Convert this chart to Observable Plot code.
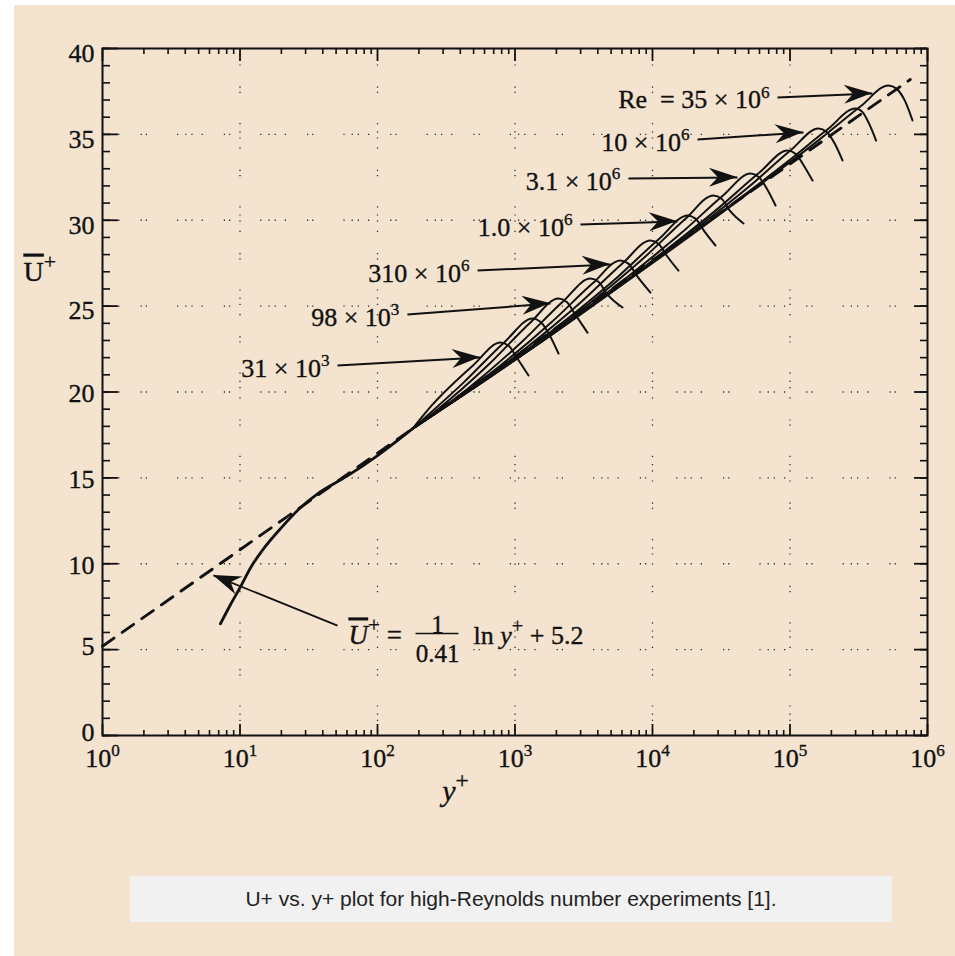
<!DOCTYPE html>
<html>
<head>
<meta charset="utf-8">
<script src="https://cdn.jsdelivr.net/npm/d3@7"></script>
<script src="https://cdn.jsdelivr.net/npm/@observablehq/plot@0.6"></script>
<style>
  html, body { margin: 0; padding: 0; background: #ffffff; }
  body { width: 955px; height: 956px; position: relative; overflow: hidden; }
  #panel { position: absolute; left: 14px; top: 5px; right: 0; bottom: 0; background: #F3E3CF; }
  #chart { position: absolute; left: 0; top: 0; }
  #caption {
    position: absolute; left: 130px; top: 876px; width: 762px; height: 46px;
    background: #F1F1F1; display: flex; align-items: center; justify-content: center;
    font: 21px "Liberation Sans", Arial, sans-serif; color: #222;
  }
</style>
</head>
<body>
<div id="panel"></div>
<div id="chart"></div>
<div id="caption">U+ vs. y+ plot for high-Reynolds number experiments [1].</div>
<script>
// Log law of the wall: U+ = (1/kappa) ln y+ + B
const kappa = 0.41;
const intercept = 5.2;
const lawSpan = [1, 750000];

// Common near-wall part of the measured profiles [y+, U+]
const innerProfile = [
  [7.2, 6.5], [8.5, 7.6], [10, 8.6], [12, 9.8], [14.6, 10.8], [20, 12.1],
  [27, 13.2], [37, 14.1], [60, 15.1], [100, 16.3], [180, 17.87]
];

// Outer parts of the profiles, one per Reynolds number, lowest first [y+, U+]
const profile1 = [[180, 17.87], [248, 19.22], [495, 21.55], [785, 22.88], [902, 22.68], [1035, 21.98], [1254, 20.96]];
const profile2 = [[180, 17.87], [424, 20.56], [845, 22.93], [1340, 24.28], [1538, 24.08], [1766, 23.38], [2072, 22.24]];
const profile3 = [[180, 17.87], [261, 18.85], [655, 21.66], [1306, 24.08], [2070, 25.44], [2377, 25.24], [2729, 24.54], [3365, 23.46]];
const profile4 = [[180, 17.87], [446, 20.15], [1119, 22.91], [2234, 25.27], [3540, 26.61], [4064, 26.41], [4667, 25.71], [6050, 24.92]];
const profile5 = [[180, 17.87], [736, 21.37], [1849, 24.07], [3690, 26.34], [5850, 27.66], [6714, 27.46], [7709, 26.76], [9670, 25.79]];
const profile6 = [[180, 17.87], [1216, 22.59], [3055, 25.27], [6095, 27.51], [9660, 28.82], [11090, 28.62], [12740, 27.92], [15450, 27.07]];
const profile7 = [[180, 17.87], [2265, 24.10], [5689, 26.76], [11350, 28.97], [17990, 30.28], [20650, 30.08], [23710, 29.38], [28710, 28.53]];
const profile8 = [[180, 17.87], [3499, 25.16], [8790, 27.86], [17540, 30.12], [27800, 31.44], [31920, 31.24], [36640, 30.54], [45920, 29.81]];
const profile9 = [[180, 17.87], [6501, 26.66], [16330, 29.28], [32590, 31.44], [51640, 32.72], [59290, 32.52], [68080, 31.82], [78520, 30.86]];
const profile10 = [[180, 17.87], [12080, 28.16], [30340, 30.72], [60530, 32.81], [95940, 34.06], [110200, 33.86], [126500, 33.16], [145900, 32.31]];
const profile11 = [[180, 17.87], [20280, 29.44], [50930, 31.99], [101600, 34.09], [161100, 35.34], [184900, 35.14], [212300, 34.44], [241000, 33.48]];
const profile12 = [[180, 17.87], [37670, 30.93], [94620, 33.37], [188800, 35.31], [299200, 36.51], [335700, 36.31], [376700, 35.61], [422700, 34.64]];
const profile13 = [[180, 17.87], [65460, 32.28], [164400, 34.71], [328100, 36.65], [520000, 37.85], [597000, 37.65], [685500, 36.95], [778000, 35.81]];
const profiles = [profile1, profile2, profile3, profile4, profile5, profile6, profile7,
                  profile8, profile9, profile10, profile11, profile12, profile13];

// Reynolds-number annotations: label, arrow tail and arrow tip [y+, U+]
const reLabels = ["31 × 10^3", "98 × 10^3", "310 × 10^6", "1.0 × 10^6", "3.1 × 10^6", "10 × 10^6", "Re\u00a0 = 35 × 10^6"];
const arrowTail = [[51.2, 21.54], [165, 24.51], [534, 27.07], [2995, 29.75], [6685, 32.43], [21250, 34.70], [81100, 37.15]];
const arrowTip = [[561, 22.01], [1811, 25.15], [4950, 27.42], [15200, 29.93], [41500, 32.49], [125400, 35.11], [398000, 37.38]];

// Law-of-the-wall annotation arrow
const formulaTail = [51.2, 6.40];
const formulaTip = [6.41, 9.32];
const fractionBar = [[189, 5.94], [388, 5.94]];

// Axes
const decades = [1, 10, 100, 1e3, 1e4, 1e5, 1e6];
const uTicksLow = [0, 5];
const uTicksMid = [10, 15, 20];
const uTicksHigh = [25, 30, 35, 40];
const uTicks = [...uTicksLow, ...uTicksMid, ...uTicksHigh];
const uMinor = d3.range(0, 41);
const xMinor = decades.slice(0, -1).flatMap(d => d3.range(2, 10).map(k => k * d));
const gridU = [5, 10, 15, 20, 25, 30, 35];
const gridX = [10, 100, 1e3, 1e4, 1e5];

const W = 955, H = 800, mL = 102, mR = 28, mT = 48, mB = 65;
const innerW = W - mL - mR, innerH = H - mT - mB;
const ink = "#111";
const serif = "'Liberation Serif', 'Times New Roman', serif";
const gridDash = "1.2 5 1.2 9 1.2 21 1.2 4 1.2 30 1.2 7";
const textInk = {fill: ink, stroke: ink, strokeWidth: 0.35, fontFamily: serif};

const lawLine = lawSpan.map(v => [v, Math.log(v) / kappa + intercept]);
const outerPoints = profiles.flatMap((p, i) => p.map(([x, y]) => ({id: i, x, y})));
const arrows = reLabels.map((label, i) => ({label, tail: arrowTail[i], tip: arrowTip[i]}));

const note = (text, dx, dy, textAnchor, fontSize = 27) =>
  Plot.text([formulaTail], {x: d => d[0], y: d => d[1], text: () => text, dx, dy,
    textAnchor, lineAnchor: "bottom", fontSize, ...textInk});

const uLabels = (ticks, dy) =>
  Plot.text(ticks, {y: d => d, text: d => String(d), frameAnchor: "left", textAnchor: "end",
    dx: -8, dy, fontSize: 26, ...textInk});

const chart = Plot.plot({
  width: W, height: H,
  marginLeft: mL, marginRight: mR, marginTop: mT, marginBottom: mB,
  x: {type: "log", domain: [1, 1e6], axis: null},
  y: {domain: [0, 40], axis: null},
  style: {background: "transparent", overflow: "visible", fontFamily: serif, color: ink},
  marks: [
    // dotted grid
    Plot.ruleY(gridU, {y: d => d, stroke: "#2a2a2a", strokeWidth: 1.3, strokeDasharray: gridDash}),
    Plot.ruleX(gridX, {x: d => d, stroke: "#2a2a2a", strokeWidth: 1.3, strokeDasharray: gridDash}),
    // law of the wall
    Plot.line(lawLine, {x: d => d[0], y: d => d[1], stroke: ink, strokeWidth: 2.9, strokeDasharray: "14 10"}),
    // measured profiles
    Plot.line(innerProfile, {x: d => d[0], y: d => d[1], curve: "monotone-x", stroke: ink, strokeWidth: 2.8}),
    Plot.line(outerPoints, {x: "x", y: "y", z: "id", curve: "monotone-x", stroke: ink, strokeWidth: 2}),
    // annotation arrows and labels
    Plot.link(arrows, {x1: d => d.tail[0], y1: d => d.tail[1], x2: d => d.tip[0], y2: d => d.tip[1], stroke: ink, strokeWidth: 2}),
    Plot.text(arrows, {x: d => d.tail[0], y: d => d.tail[1], text: "label", textAnchor: "end", lineAnchor: "bottom",
      dx: -8, dy: 11, fontSize: 26, ...textInk}),
    Plot.link([formulaTail], {x1: d => d[0], y1: d => d[1], x2: () => formulaTip[0], y2: () => formulaTip[1], stroke: ink, strokeWidth: 1.8}),
    note("~¯U^+ =", 11, 18, "start"),
    note("1", 100, 7, "middle", 25),
    note("0.41", 100, 36, "middle", 25),
    note("ln ~y^+ + 5.2", 136, 18, "start", 26),
    Plot.link([fractionBar], {x1: d => d[0][0], y1: d => d[0][1], x2: d => d[1][0], y2: d => d[1][1], stroke: ink, strokeWidth: 1.5}),
    // inward ticks on all four sides
    Plot.ruleX(xMinor, {x: d => d, insetTop: innerH - 5, stroke: ink, strokeWidth: 1.6}),
    Plot.ruleX(decades, {x: d => d, insetTop: innerH - 11, stroke: ink, strokeWidth: 1.8}),
    Plot.ruleX(xMinor, {x: d => d, insetBottom: innerH - 6, stroke: ink, strokeWidth: 1.6}),
    Plot.ruleX(decades, {x: d => d, insetBottom: innerH - 13, stroke: ink, strokeWidth: 1.8}),
    Plot.ruleY(uMinor, {y: d => d, insetRight: innerW - 8, stroke: ink, strokeWidth: 1.6}),
    Plot.ruleY(uTicks, {y: d => d, insetRight: innerW - 16, stroke: ink, strokeWidth: 1.8}),
    Plot.ruleY(uMinor, {y: d => d, insetLeft: innerW - 7, stroke: ink, strokeWidth: 1.6}),
    Plot.ruleY(uTicks, {y: d => d, insetLeft: innerW - 13, stroke: ink, strokeWidth: 1.8}),
    // tick labels
    Plot.text(decades, {x: d => d, text: d => "10^" + Math.round(Math.log10(d)), frameAnchor: "bottom",
      lineAnchor: "bottom", dy: 31, fontSize: 26, ...textInk}),
    uLabels(uTicksLow, -3),
    uLabels(uTicksMid, 2),
    uLabels(uTicksHigh, 5),
    // axis titles
    Plot.text([369], {x: d => d, text: () => "~y^+", frameAnchor: "bottom", lineAnchor: "bottom",
      dy: 65, fontSize: 30, ...textInk}),
    Plot.text([27], {y: d => d, text: () => "¯U^+", frameAnchor: "left", textAnchor: "start",
      dx: -79, fontSize: 28, ...textInk}),
    Plot.frame({stroke: ink, strokeWidth: 2})
  ]
});

document.getElementById("chart").appendChild(chart);

// Filled arrowheads placed with the chart's own scales
const ns = "http://www.w3.org/2000/svg";
const xs = chart.scale("x"), ys = chart.scale("y");
const px = xs.apply ? v => xs.apply(v) : d3.scaleLog(xs.domain, xs.range);
const py = ys.apply ? v => ys.apply(v) : d3.scaleLinear(ys.domain, ys.range);
function arrowHead(tail, tip, len, half, notch) {
  const x0 = px(tail[0]), y0 = py(tail[1]), x1 = px(tip[0]), y1 = py(tip[1]);
  const d = Math.hypot(x1 - x0, y1 - y0), ux = (x1 - x0) / d, uy = (y1 - y0) / d;
  const nx = -uy, ny = ux;
  const pts = [[x1, y1], [x1 - len * ux + half * nx, y1 - len * uy + half * ny],
               [x1 - notch * ux, y1 - notch * uy], [x1 - len * ux - half * nx, y1 - len * uy - half * ny]];
  const path = document.createElementNS(ns, "path");
  path.setAttribute("d", "M" + pts.map(p => p.join(",")).join("L") + "Z");
  path.setAttribute("fill", ink);
  chart.appendChild(path);
}
arrows.forEach(a => arrowHead(a.tail, a.tip, 28, 9.5, 19));
arrowHead(formulaTail, formulaTip, 28, 9.5, 19);

// Superscripts (^), overlines (¯) and italics (~) inside labels
function enrich(el) {
  const src = el.textContent;
  if (!/[\^¯~]/.test(src)) return;
  const fs = parseFloat(getComputedStyle(el).fontSize) || 20;
  const rise = 0.42 * fs;
  const runs = [];
  let flags = {sup: false, over: false, ital: false};
  for (const ch of src) {
    if (ch === "^") { flags.sup = true; continue; }
    if (ch === "¯") { flags.over = true; continue; }
    if (ch === "~") { flags.ital = true; continue; }
    const last = runs[runs.length - 1];
    if (last && last.sup === flags.sup && last.over === flags.over && last.ital === flags.ital) last.text += ch;
    else runs.push({text: ch, ...flags});
    flags = {sup: false, over: false, ital: false};
  }
  while (el.firstChild) el.removeChild(el.firstChild);
  let lifted = false;
  for (const r of runs) {
    const t = document.createElementNS(ns, "tspan");
    if (r.sup && !lifted) { t.setAttribute("dy", -rise); lifted = true; }
    else if (!r.sup && lifted) { t.setAttribute("dy", rise); lifted = false; }
    if (r.sup) t.setAttribute("font-size", ((r.text === "+" ? 0.78 : 0.66) * fs) + "px");
    if (r.ital) t.setAttribute("font-style", "italic");
    if (r.over) t.setAttribute("style", "text-decoration: overline");
    t.textContent = r.text;
    el.appendChild(t);
  }
}
chart.querySelectorAll("text").forEach(enrich);
</script>
</body>
</html>
